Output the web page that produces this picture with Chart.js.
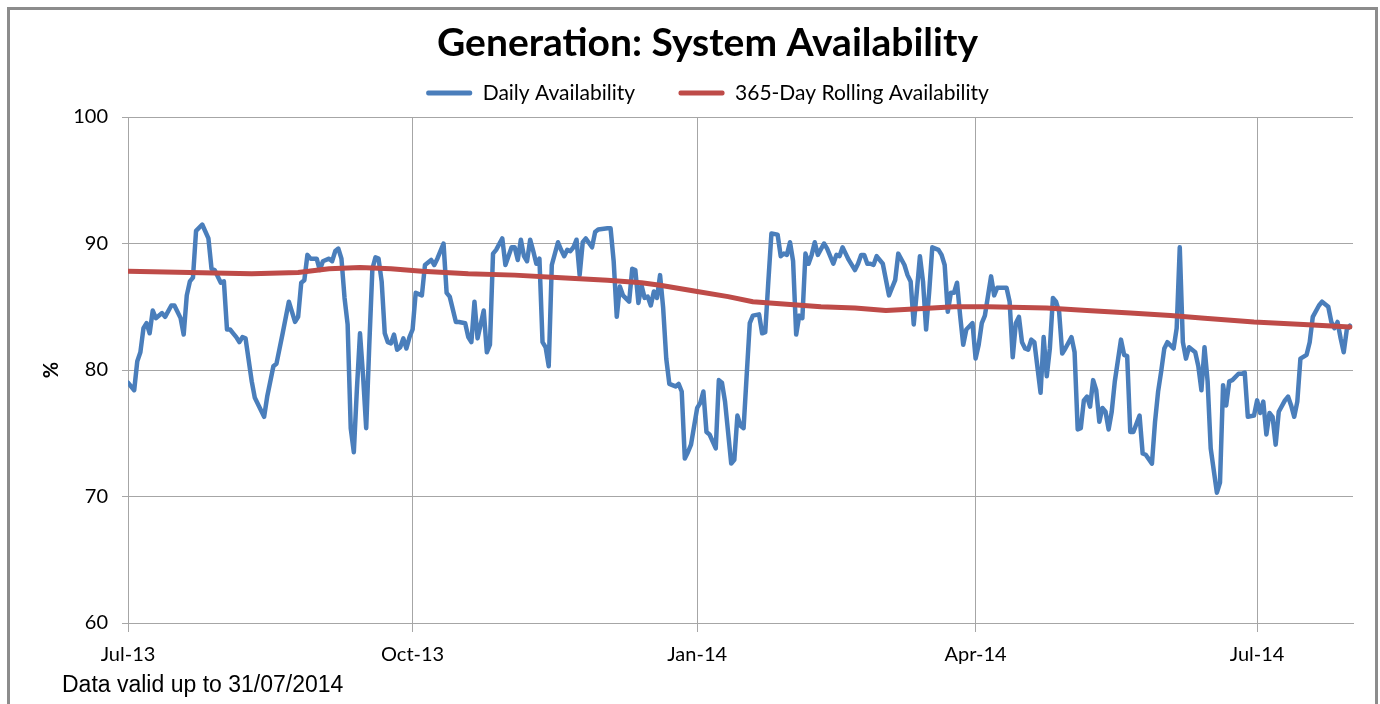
<!DOCTYPE html>
<html><head><meta charset="utf-8">
<script src="https://cdn.jsdelivr.net/npm/chart.js@4.4.1/dist/chart.umd.min.js"></script>
<style>
html,body{margin:0;padding:0;background:#fff;overflow:hidden;}
#wrap{position:relative;width:1380px;height:704px;}
#frame{position:absolute;left:7px;top:7px;width:1371px;height:760px;border:3px solid #8c8c8c;box-sizing:border-box;pointer-events:none;}
canvas{position:absolute;left:0;top:0;}
</style></head><body>
<div id="wrap"><canvas id="c" width="1380" height="704"></canvas><div id="frame"></div></div>
<script>
// Day index counted from 1 July 2013
const tickDays = [0, 92, 184, 274, 365];
const tickLabels = ['Jul-13', 'Oct-13', 'Jan-14', 'Apr-14', 'Jul-14'];
const yTicks = [60, 70, 80, 90, 100];

const dailyDays = [0,2,3,4,5,6,7,8,9,11,12,14,15,17,18,19,20,21,22,24,26,27,28,30,31,32,33,34,35,36,37,38,40,41,44,45,47,48,50,52,54,55,56,57,58,59,61,62,63,65,66,67,68,69,70,71,72,73,74,75,76,77,78,79,80,81,82,83,84,85,86,87,88,89,90,91,92,93,95,96,98,99,100,102,103,104,106,107,109,110,111,112,113,115,116,117,118,119,121,122,124,125,126,127,128,129,130,131,132,133,134,135,136,137,139,140,141,142,143,144,145,146,147,148,150,151,152,155,156,157,158,159,160,162,163,164,165,166,167,168,169,170,171,172,173,174,175,177,178,179,180,181,182,184,185,186,187,188,190,191,192,193,195,196,197,198,199,200,201,202,204,205,206,207,208,210,211,212,213,214,215,216,217,218,219,220,221,222,223,225,226,228,229,230,231,232,233,235,236,237,238,239,240,241,242,244,246,247,248,249,251,252,253,254,255,256,257,258,259,260,262,263,264,265,266,267,268,269,270,271,273,274,275,276,277,279,280,281,284,285,286,287,288,289,290,291,292,293,295,296,297,298,299,300,301,302,303,305,306,307,308,309,310,311,312,313,314,315,316,317,318,319,321,322,323,324,325,327,328,329,331,332,333,334,335,336,338,339,340,341,342,343,345,346,347,348,349,350,352,353,354,355,356,357,359,360,361,362,364,365,366,367,368,369,370,371,372,374,375,376,377,378,379,381,382,383,385,386,388,389,390,391,392,393,394,395];
const dailyValues = [79.0,78.4,80.7,81.4,83.3,83.7,82.9,84.7,84.1,84.5,84.2,85.1,85.1,84.1,82.8,85.9,87.0,87.3,91.0,91.5,90.4,88.0,87.9,86.9,87.0,83.2,83.2,82.9,82.6,82.2,82.6,82.5,79.1,77.8,76.3,77.9,80.3,80.5,82.9,85.4,83.8,84.2,86.9,87.1,89.1,88.8,88.8,87.9,88.6,88.8,88.6,89.4,89.6,88.8,85.7,83.6,75.4,73.5,78.5,82.9,79.5,75.4,82.0,88.0,88.9,88.8,87.0,82.9,82.2,82.1,82.8,81.6,81.8,82.5,81.7,82.6,83.2,86.1,85.9,88.3,88.7,88.3,88.8,90.0,86.1,85.8,83.8,83.8,83.7,82.6,82.2,85.4,82.5,84.7,81.4,82.0,89.2,89.5,90.4,88.3,89.7,89.7,88.7,90.3,89.0,88.6,90.3,89.4,88.4,88.8,82.2,81.8,80.3,88.3,90.1,89.5,89.0,89.5,89.4,89.7,90.3,87.5,90.1,90.4,89.7,90.9,91.1,91.2,91.2,88.6,84.2,86.6,85.9,85.4,88.0,87.9,85.3,86.7,85.7,85.8,85.1,86.2,85.7,87.5,84.9,80.9,78.9,78.7,78.9,78.3,73.0,73.5,74.1,77.0,77.4,78.3,75.1,74.9,73.8,79.2,79.0,77.5,72.6,72.9,76.4,75.6,75.4,79.6,83.7,84.3,84.4,82.9,83.0,87.0,90.8,90.7,89.0,89.2,89.1,90.1,88.6,82.8,84.3,84.1,89.2,88.4,89.1,90.1,89.1,90.0,89.6,88.4,89.1,89.0,89.7,89.2,88.7,87.9,88.4,89.1,89.1,88.4,88.4,88.3,89.0,88.4,85.9,86.5,87.1,89.2,88.3,87.5,87.0,83.6,86.2,89.0,87.0,83.2,86.2,89.7,89.5,89.1,88.3,84.6,86.1,86.1,86.9,84.3,82.0,83.2,83.7,80.9,82.0,83.7,84.3,87.4,85.9,86.5,86.5,85.4,81.0,83.7,84.2,82.2,81.7,81.6,82.4,82.2,78.2,82.6,79.5,81.7,85.7,85.4,84.6,81.3,81.7,82.6,81.4,75.3,75.4,77.6,77.9,77.1,79.2,78.4,75.9,77.0,76.7,75.3,76.7,79.1,82.4,81.2,81.1,75.1,75.1,76.4,73.4,73.3,72.6,75.9,78.3,79.9,81.7,82.2,81.7,83.3,89.7,82.2,80.9,81.8,81.4,80.3,78.4,81.8,79.1,73.8,70.3,71.1,78.8,77.2,79.1,79.2,79.7,79.7,79.8,76.3,76.4,77.6,76.6,77.5,74.9,76.6,76.3,74.1,76.7,77.6,77.9,77.2,76.3,77.5,80.9,81.2,82.2,84.2,85.1,85.4,85.0,83.8,83.3,83.8,82.5,81.4,83.2,83.5];

const rollingDays = [0,20,40,55,65,75,85,95,110,125,140,155,166,172,184,194,202,213,224,235,245,260,267,278,297,310,324,337,348,364,380,395];
const rollingValues = [87.8,87.7,87.6,87.7,88.0,88.1,88.0,87.8,87.6,87.5,87.3,87.1,86.9,86.7,86.2,85.8,85.4,85.2,85.0,84.9,84.7,84.9,85.0,85.0,84.9,84.7,84.5,84.3,84.1,83.8,83.6,83.4];

const titleText = 'Generation: System Availability';
const seriesNames = ['Daily Availability', '365-Day Rolling Availability'];
const footnoteText = 'Data valid up to 31/07/2014';

const BLUE = '#4A7EBB';
const RED = '#BE4B48';
const GRID = '#a6a6a6';

const footnote = {
  id: 'footnote',
  afterDraw(chart) {
    const ctx = chart.ctx;
    ctx.save();
    ctx.font = '23px "Liberation Sans", Arial, sans-serif';
    ctx.fillStyle = '#000';
    ctx.textAlign = 'left';
    ctx.textBaseline = 'alphabetic';
    ctx.fillText(footnoteText, 62, 692);
    ctx.restore();
  }
};

new Chart(document.getElementById('c'), {
  type: 'line',
  data: {
    datasets: [
      {
        label: seriesNames[0],
        data: dailyDays.map((d, i) => ({x: d, y: dailyValues[i]})),
        borderColor: BLUE, backgroundColor: BLUE, borderWidth: 4.5,
        pointRadius: 0, tension: 0, borderJoinStyle: 'round', borderCapStyle: 'round', order: 1
      },
      {
        label: seriesNames[1],
        data: rollingDays.map((d, i) => ({x: d, y: rollingValues[i]})),
        borderColor: RED, backgroundColor: RED, borderWidth: 5,
        pointRadius: 0, tension: 0, borderJoinStyle: 'round', borderCapStyle: 'round', order: 0
      }
    ]
  },
  options: {
    responsive: false,
    animation: false,
    devicePixelRatio: 1,
    layout: {padding: {left: 62, right: 27, top: 0, bottom: 0}},
    plugins: {
      tooltip: {enabled: false},
      title: {
        display: true, text: titleText, color: '#000',
        font: {family: 'Lato', size: 39, weight: 'bold', lineHeight: 0},
        padding: {top: 43, bottom: -4}
      },
      legend: {
        display: true, position: 'top',
        labels: {
          color: '#000', font: {family: 'Lato', size: 21},
          boxWidth: 46, boxHeight: 5, padding: 43.5,
          generateLabels: (chart) => chart.data.datasets.map((ds, i) => ({
            text: ds.label, fillStyle: ds.borderColor, strokeStyle: ds.borderColor,
            lineWidth: 0, hidden: false, datasetIndex: i, borderRadius: 2
          }))
        }
      },
      subtitle: {
        display: true, text: '', weight: 500, padding: 0,
        font: {size: 5, lineHeight: 0.7}
      }
    },
    scales: {
      x: {
        type: 'linear', min: 0, max: 396,
        afterBuildTicks: (s) => { s.ticks = tickDays.map(v => ({value: v})); },
        afterFit: (s) => { s.height = 81; },
        ticks: {
          autoSkip: false, maxRotation: 0, padding: 11, color: '#000',
          font: {family: 'Lato', size: 20},
          callback: (v) => { const i = tickDays.indexOf(v); return i >= 0 ? tickLabels[i] : ''; }
        },
        grid: {color: GRID, lineWidth: 1, tickLength: 9},
        border: {color: GRID, width: 1}
      },
      y: {
        min: 60, max: 100,
        afterBuildTicks: (s) => { s.ticks = yTicks.map(v => ({value: v})); },
        afterFit: (s) => { s.width = 66; },
        ticks: {padding: 14, color: '#000', font: {family: 'Lato', size: 20}},
        grid: {color: GRID, lineWidth: 1, tickLength: 6},
        border: {color: GRID, width: 1},
        title: {
          display: true, text: '%', color: '#000',
          font: {family: 'Lato', size: 20, weight: 'bold'},
          padding: {top: -22, bottom: 0}
        }
      }
    }
  },
  plugins: [footnote]
});
</script>
</body></html>
